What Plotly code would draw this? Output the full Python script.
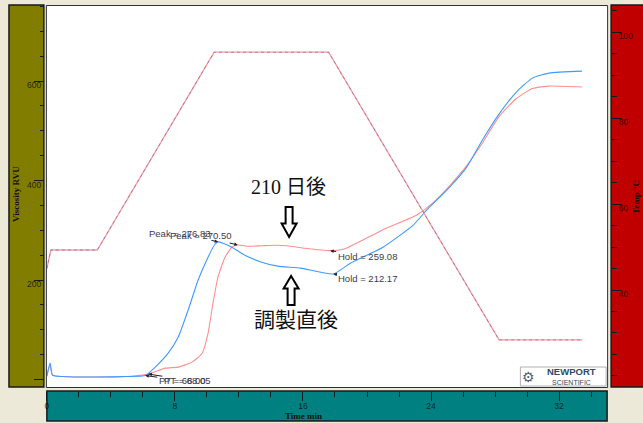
import plotly.graph_objects as go

W, H = 643, 423

# ---------------- data ----------------
temp_time = [0.0, 0.25, 3.15, 10.45, 17.6, 28.25, 33.45]
temp_c = [45.0, 49.3, 49.3, 95.3, 95.3, 28.4, 28.4]

fresh_time = [0.0, 0.2, 0.35, 1.0, 3.0, 5.0, 6.15, 6.77, 7.58, 8.20, 8.83, 9.45, 10.07,
              10.5, 10.7, 11.0, 11.56, 12.37, 13.42, 14.42, 15.85, 17.9, 18.96, 21.0,
              22.87, 23.74, 25.17, 26.23, 27.22, 28.28, 29.33, 30.33, 31.38, 33.44]
fresh_visc = [7, 33, 9, 6, 5, 6, 8, 25, 53, 85, 140, 200, 246,
              272, 276.8, 274, 266, 250, 236, 228, 224, 212.2, 234, 266,
              310, 341, 387, 427, 482, 535, 578, 606, 616, 620]

aged_time = [0.0, 0.2, 0.35, 1.0, 3.0, 5.0, 6.34, 7.40, 8.20, 9.07, 9.70, 10.07, 10.38,
             10.69, 11.13, 11.56, 11.93, 12.6, 13.42, 14.42, 15.2, 16.1, 17.7, 18.52,
             20.01, 21.26, 23.12, 24.11, 25.17, 26.23, 27.22, 28.28, 29.33, 30.33,
             31.38, 33.44]
aged_visc = [7, 30, 9, 6, 5, 6, 11, 23, 25, 35, 53, 93, 154,
             206, 246, 266, 270.5, 268, 269, 270, 268, 264, 259.1, 262,
             285, 305, 331, 355, 390, 430, 476, 530, 565, 585,
             590, 588]

peak_labels = ["Peak = 276.83", "Peak = 270.50"]
hold_labels = ["Hold = 259.08", "Hold = 212.17"]
pt_labels = ["PT = 68.00", "PT = 68.05"]

visc_ticks = [0, 200, 400, 600]
visc_ticktext = ["", "200", "400", "600"]
temp_ticks = [40, 60, 80, 100]
time_ticks = [0, 8, 16, 24, 32]

# ---------------- colours / helpers ----------------
PAPER = "#ECE9D8"
OLIVE = "#807D00"
RED = "#C00000"
TEAL = "#008080"
BLUE = "#3D9BFF"
PINK = "#FF8F8F"
LBL = "#3a3a50"


def px(x):
    return x / W


def py(y):
    return 1 - y / H


fig = go.Figure()

# temperature profile (two overlapping runs)
fig.add_trace(go.Scatter(x=temp_time, y=temp_c, mode="lines", yaxis="y2",
                         line=dict(color="#FF9A9A", width=1.3), hoverinfo="skip",
                         showlegend=False))
fig.add_trace(go.Scatter(x=temp_time, y=temp_c, mode="lines", yaxis="y2",
                         line=dict(color="#6060C8", width=0.8, dash="dot"),
                         opacity=0.75, hoverinfo="skip", showlegend=False))
# viscosity curves
fig.add_trace(go.Scatter(x=aged_time, y=aged_visc, mode="lines",
                         line=dict(color=PINK, width=1.1, shape="spline", smoothing=0.5),
                         showlegend=False))
fig.add_trace(go.Scatter(x=fresh_time, y=fresh_visc, mode="lines",
                         line=dict(color=BLUE, width=1.1, shape="spline", smoothing=0.5),
                         showlegend=False))

tickfont = dict(family="Liberation Sans, Arial, sans-serif", size=8.5,
                color="rgba(0,0,0,0.72)")

fig.update_layout(
    width=W, height=H,
    margin=dict(l=0, r=0, t=0, b=0),
    paper_bgcolor=PAPER, plot_bgcolor="white",
    showlegend=False,
    xaxis=dict(domain=[px(45), px(607)], range=[0, 35], anchor="free",
               position=(H - 391) / H, showgrid=False, zeroline=False,
               showline=False, ticks="outside", ticklen=9, tickcolor="#1a1a1a",
               tickwidth=1, tickmode="array", tickvals=time_ticks,
               tickfont=tickfont, ticklabelstandoff=-2,
               minor=dict(ticks="outside", ticklen=5, tickcolor="#1a1a1a",
                          dtick=2, tick0=0, showgrid=False)),
    yaxis=dict(domain=[1 - 387 / H, 1 - 5 / H], range=[-15, 753], anchor="free",
               position=px(42), side="left", showgrid=False, zeroline=False,
               showline=False, ticks="outside", ticklen=10, tickcolor="#1a1a1a",
               tickmode="array", tickvals=visc_ticks, ticktext=visc_ticktext,
               tickfont=tickfont, ticklabelstandoff=-9, ticklabelshift=4,
               minor=dict(ticks="outside", ticklen=4, tickcolor="#1a1a1a",
                          dtick=50, tick0=0, showgrid=False)),
    yaxis2=dict(domain=[1 - 387 / H, 1 - 5 / H], range=[17.44, 106.28],
                overlaying="y", anchor="free", position=px(611), side="right",
                showgrid=False, zeroline=False, showline=False, ticks="outside",
                ticklen=10, tickcolor="#1a1a1a", tickmode="array",
                tickvals=temp_ticks, tickfont=tickfont, ticklabelstandoff=-5,
                ticklabelshift=4,
                minor=dict(ticks="outside", ticklen=5, tickcolor="#1a1a1a",
                           dtick=5, tick0=0, showgrid=False)),
)

shapes = []
# side panels
shapes.append(dict(type="rect", xref="paper", yref="paper", x0=px(7), x1=px(42),
                   y0=py(387), y1=py(5), fillcolor=OLIVE,
                   line=dict(color="#1a1a1a", width=1.5), layer="below"))
shapes.append(dict(type="rect", xref="paper", yref="paper", x0=px(611), x1=px(645),
                   y0=py(387), y1=py(5), fillcolor=RED,
                   line=dict(color="#1a1a1a", width=1.5), layer="below"))
shapes.append(dict(type="rect", xref="paper", yref="paper", x0=px(45), x1=px(607),
                   y0=py(421), y1=py(391), fillcolor=TEAL,
                   line=dict(color="#1a1a1a", width=1.5), layer="below"))
# plot frame
shapes.append(dict(type="rect", xref="paper", yref="paper", x0=px(44.5), x1=px(607.5),
                   y0=py(387.5), y1=py(5.5), line=dict(color="#303030", width=1),
                   layer="above"))


def poly(points):
    d = "M " + " L ".join(f"{px(a):.5f},{py(b):.5f}" for a, b in points) + " Z"
    return d


# hollow arrows
down_arrow = [(284.5, 207), (291.5, 207), (291.5, 223.5), (295.5, 223.5),
              (288, 237), (280.5, 223.5), (284.5, 223.5)]
up_arrow = [(290, 276), (297.5, 288.5), (293.5, 288.5), (293.5, 305),
            (286.5, 305), (286.5, 288.5), (282.5, 288.5)]
for pts in (down_arrow, up_arrow):
    shapes.append(dict(type="path", xref="paper", yref="paper", path=poly(pts),
                       fillcolor="white", line=dict(color="black", width=2),
                       layer="above"))
# logo box
shapes.append(dict(type="rect", xref="paper", yref="paper", x0=px(520), x1=px(606),
                   y0=py(386), y1=py(367), fillcolor="white",
                   line=dict(color="#b0b0b0", width=1), layer="above"))
fig.update_layout(shapes=shapes)

ann = []
lblfont = dict(family="Liberation Sans, Arial, sans-serif", size=9.5, color=LBL)
arrow_common = dict(showarrow=True, arrowhead=2, arrowsize=0.7, arrowwidth=1,
                    arrowcolor="#202020", font=lblfont, xref="x", yref="y",
                    standoff=0)
# peak labels
ann.append(dict(x=fresh_time[14], y=fresh_visc[14], text=peak_labels[0],
                ax=-38, ay=-8.5, **arrow_common))
ann.append(dict(x=aged_time[16], y=aged_visc[16], text=peak_labels[1],
                ax=-37, ay=-9, **arrow_common))
# hold labels
ann.append(dict(x=aged_time[22], y=aged_visc[22], text=hold_labels[0],
                ax=37, ay=5.5, **arrow_common))
ann.append(dict(x=fresh_time[21], y=fresh_visc[21], text=hold_labels[1],
                ax=34, ay=4.5, **arrow_common))
# pasting temperature labels
ann.append(dict(x=fresh_time[6], y=fresh_visc[6], text=pt_labels[0],
                ax=37, ay=5, **arrow_common))
ann.append(dict(x=aged_time[6], y=aged_visc[6], text=pt_labels[1],
                ax=39, ay=6, **arrow_common))

C = dict(xref="paper", yref="paper", showarrow=False, xanchor="center",
         yanchor="middle")
# big Japanese annotations
ann.append(dict(x=px(287.5), y=py(187.5), text="210 日後",
                font=dict(family="Liberation Serif, Noto Sans CJK JP", size=20,
                          color="#111111"), **C))
ann.append(dict(x=px(294.5), y=py(318), text="調製直後",
                font=dict(family="Noto Sans CJK JP", size=21, color="#111111"), **C))

# axis titles
titlefont = dict(family="Liberation Serif, Times New Roman, serif", size=9,
                 color="#111111", weight="bold")
ann.append(dict(x=px(14), y=py(194), text="Viscosity RVU", textangle=-90,
                font=titlefont, **C))
ann.append(dict(x=px(636), y=py(197), text="Temp °C", textangle=-90,
                font=titlefont, **C))
ann.append(dict(x=px(302), y=py(416), text="Time min", font=titlefont, **C))

# logo
ann.append(dict(x=px(528.5), y=py(376.5), text="⚙",
                font=dict(family="DejaVu Sans", size=14, color="#556070"), **C))
ann.append(dict(x=px(571), y=py(371.5), text="NEWPORT",
                font=dict(family="Liberation Sans, Arial", size=9.5,
                          color="#2E4A66", weight="bold"), **C))
ann.append(dict(x=px(571), y=py(382), text="SCIENTIFIC",
                font=dict(family="Liberation Sans, Arial", size=7,
                          color="#2E4A66"), **C))
fig.update_layout(annotations=ann)

fig.write_html("out.html", config={"displayModeBar": False},
               post_script="document.body.style.margin='0';"
                           "document.body.style.padding='0';")
